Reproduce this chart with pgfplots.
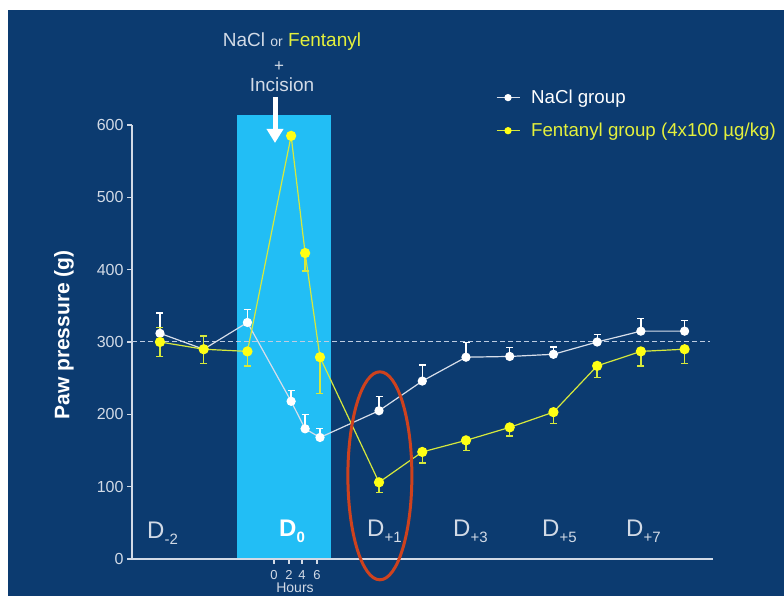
\documentclass[border=0pt]{standalone}
\usepackage{fontspec}
\setmainfont{Liberation Sans}
\usepackage{pgfplots}
\usepackage{pgfplotstable}
\pgfplotsset{compat=1.18}
\usetikzlibrary{arrows.meta}

\definecolor{navy}{RGB}{12,59,112}
\definecolor{cyanbox}{RGB}{34,190,245}
\definecolor{fentline}{RGB}{214,232,60}
\definecolor{fentmark}{RGB}{255,255,20}
\definecolor{fenttext}{RGB}{228,240,60}
\definecolor{nacline}{RGB}{215,222,234}
\definecolor{axisgray}{RGB}{210,218,230}
\definecolor{ellred}{RGB}{206,66,30}
\definecolor{dashgray}{RGB}{190,204,225}

\pgfplotstableread{
x y ep em
0 312 28 0
1 290 18 0
2 327 18 0
3.0 218 15 0
3.32 180 20 0
3.66 168 12 0
5.01 205 20 0
6 246 22 0
7 279 20 0
8 280 12 0
9 283 10 0
10 300 10 0
11 315 17 0
12 315 15 0
}\nacl

\pgfplotstableread{
x y ep em
0 300 20 20
1 290 18 20
2 287 0 20
3.0 585 0 0
3.32 423 0 25
3.66 279 0 50
5.01 106 0 14
6 148 0 15
7 164 0 14
8 182 0 12
9 203 0 16
10 267 0 16
11 287 0 20
12 290 0 20
}\fent

\newcommand\Dlab[1]{\fontsize{24}{24}\selectfont D\raisebox{-6pt}{\fontsize{15}{15}\selectfont #1}}

\begin{document}
\begin{tikzpicture}[x=1pt,y=1pt]
\clip (0,0) rectangle (784,596);
\fill[white] (0,0) rectangle (784,596);
\fill[navy] (8,0) rectangle (784,586);
\fill[cyanbox] (237,37) rectangle (331,481);
\begin{axis}[
  at={(132pt,37pt)}, anchor=south west,
  scale only axis, width=581pt, height=434pt,
  xmin=-0.64, xmax=12.65, ymin=0, ymax=600,
  clip=false,
  axis x line*=bottom, axis y line*=left,
  axis line style={-},
  x axis line style={axisgray, line width=2.2pt},
  y axis line style={axisgray, line width=1.3pt},
  ytick={0,100,...,600},
  tick align=outside, major tick length=5pt,
  ytick style={axisgray, line width=1.2pt},
  xtick={2.61,2.95,3.25,3.59}, xticklabels={0,2,4,6},
  xtick style={axisgray, line width=1.2pt},
  x tick label style={font=\fontsize{13}{13}\selectfont, text=axisgray, yshift=-3pt},
  y tick label style={font=\fontsize{16}{16}\selectfont, text=axisgray},
  /pgf/number format/assume math mode=true,
  legend style={at={(0.626,1.025)}, anchor=west, draw=none, fill=none,
    font=\fontsize{18.7}{22}\selectfont, row sep=14pt, inner sep=0pt,
    /tikz/every odd column/.append style={column sep=9pt}},
  legend cell align=left,
  legend image code/.code={\draw[mark repeat=2,mark phase=2,#1,mark size=3pt] plot coordinates {(0pt,0pt)(11.5pt,0pt)(23pt,0pt)};},
]
\addplot[dashgray, line width=1pt, dash pattern=on 5pt off 3pt, forget plot] coordinates {(-0.64,300)(12.59,300)};

\addplot[nacline, line width=1.2pt, mark=*, mark size=4pt,
  mark options={fill=white, draw=white, solid},
  error bars/.cd, y dir=both, y explicit,
  error bar style={white, line width=1.3pt},
  error mark options={rotate=90, mark size=3.5pt, white, line width=1.3pt}]
  table[x=x, y=y, y error plus=ep, y error minus=em] {\nacl};
\addlegendentry{\textcolor{white}{NaCl group}}

\addplot[fentline, line width=1.2pt, mark=*, mark size=4.5pt,
  mark options={fill=fentmark, draw=fentmark, solid},
  error bars/.cd, y dir=both, y explicit,
  error bar style={fentline, line width=1.5pt},
  error mark options={rotate=90, mark size=3.5pt, fentline, line width=1.5pt}]
  table[x=x, y=y, y error plus=ep, y error minus=em] {\fent};
\addlegendentry{\textcolor{fenttext}{Fentanyl group (4x100 µg/kg)}}

\draw[ellred, line width=3pt] (axis cs:5.03,115) ellipse [x radius=32pt, y radius=104pt];
\end{axis}

% day labels
\node[anchor=base west, text=axisgray, inner sep=0] at (147,57) {\Dlab{-2}};
\node[anchor=base west, text=white, inner sep=0] at (279,59) {\bfseries\Dlab{0}};
\node[anchor=base west, text=axisgray, inner sep=0] at (367,59) {\Dlab{+1}};
\node[anchor=base west, text=axisgray, inner sep=0] at (453,59) {\Dlab{+3}};
\node[anchor=base west, text=axisgray, inner sep=0] at (542,59) {\Dlab{+5}};
\node[anchor=base west, text=axisgray, inner sep=0] at (626,59) {\Dlab{+7}};

% title
\node[anchor=base, inner sep=0] at (292,549) {\fontsize{19}{19}\selectfont\textcolor{axisgray}{NaCl} \textcolor{axisgray}{\fontsize{14}{14}\selectfont or} \textcolor{fenttext}{Fentanyl}};
\node[text=axisgray, inner sep=0] at (279,529) {\fontsize{17}{17}\selectfont +};
\node[anchor=base, text=axisgray, inner sep=0] at (282,504) {\fontsize{19}{19}\selectfont Incision};
\draw[white, line width=5pt, -{Triangle[width=16pt,length=14pt]}] (275,499) -- (275,453);

% y label
\node[rotate=90, text=white, inner sep=0] at (64,261) {\fontsize{21}{21}\selectfont\bfseries Paw pressure (g)};

% Hours
\node[anchor=base, text=axisgray, inner sep=0] at (295,3) {\fontsize{14}{14}\selectfont Hours};
\end{tikzpicture}
\end{document}
